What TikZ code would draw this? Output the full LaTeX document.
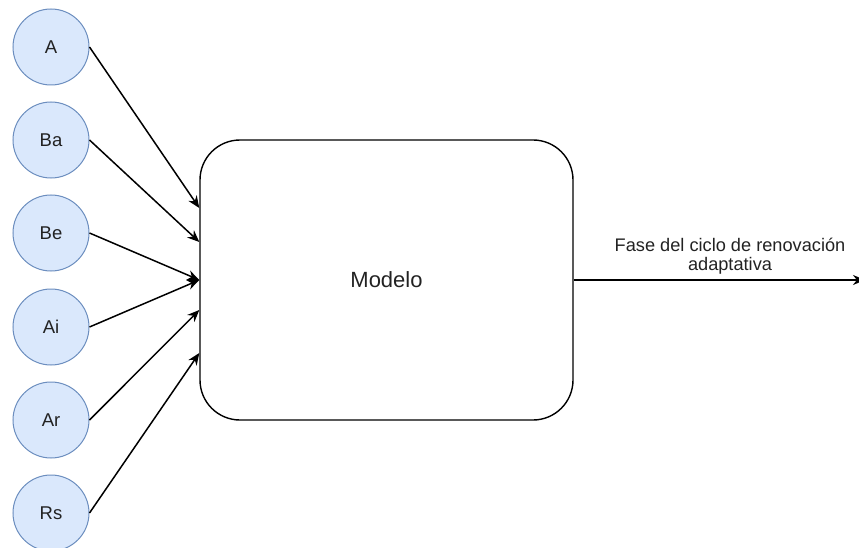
\documentclass[tikz,border=0pt]{standalone}
\usepackage{fontspec}
\setmainfont{Liberation Sans}
\usetikzlibrary{arrows.meta}
\definecolor{cfill}{HTML}{DAE8FC}
\definecolor{cdraw}{HTML}{6C8EBF}
\definecolor{ctext}{HTML}{222222}
\begin{document}
\begin{tikzpicture}[x=1pt,y=1pt,
  inp/.style={circle,draw=cdraw,fill=cfill,line width=1pt,minimum size=76pt,inner sep=0pt,font=\fontsize{18.5}{21}\selectfont,text=ctext},
  model/.style={draw=black,line width=1.4pt,rounded corners=40pt,minimum width=373pt,minimum height=280pt,inner sep=0pt,font=\fontsize{22}{25}\selectfont,text=ctext},
  arr/.style={line width=1.5pt,-{Stealth[length=12pt,width=10pt]}}]
\useasboundingbox (0,0) rectangle (859,-548);
\node[inp] (A)  at (51,-47)  {A};
\node[inp] (Ba) at (51,-140) {Ba};
\node[inp] (Be) at (51,-233) {Be};
\node[inp] (Ai) at (51,-327) {Ai};
\node[inp] (Ar) at (51,-420) {Ar};
\node[inp] (Rs) at (51,-513) {Rs};
\node[model] (M) at (386.5,-280) {Modelo};
\draw[arr] (A.east)  -- ([yshift=72pt]M.west);
\draw[arr] (Ba.east) -- ([yshift=38pt]M.west);
\draw[arr] (Be.east) -- (M.west);
\draw[arr] (Ai.east) -- (M.west);
\draw[arr] (Ar.east) -- ([yshift=-30pt]M.west);
\draw[arr] (Rs.east) -- ([yshift=-73pt]M.west);
\coordinate (out) at (865,-280);
\draw[arr] (M.east) -- (out);
\node[align=center,font=\fontsize{18.2}{18.5}\selectfont,text=ctext,inner sep=0pt] (lbl) at (730,-256) {Fase del ciclo de renovación\\adaptativa};
\end{tikzpicture}
\end{document}
